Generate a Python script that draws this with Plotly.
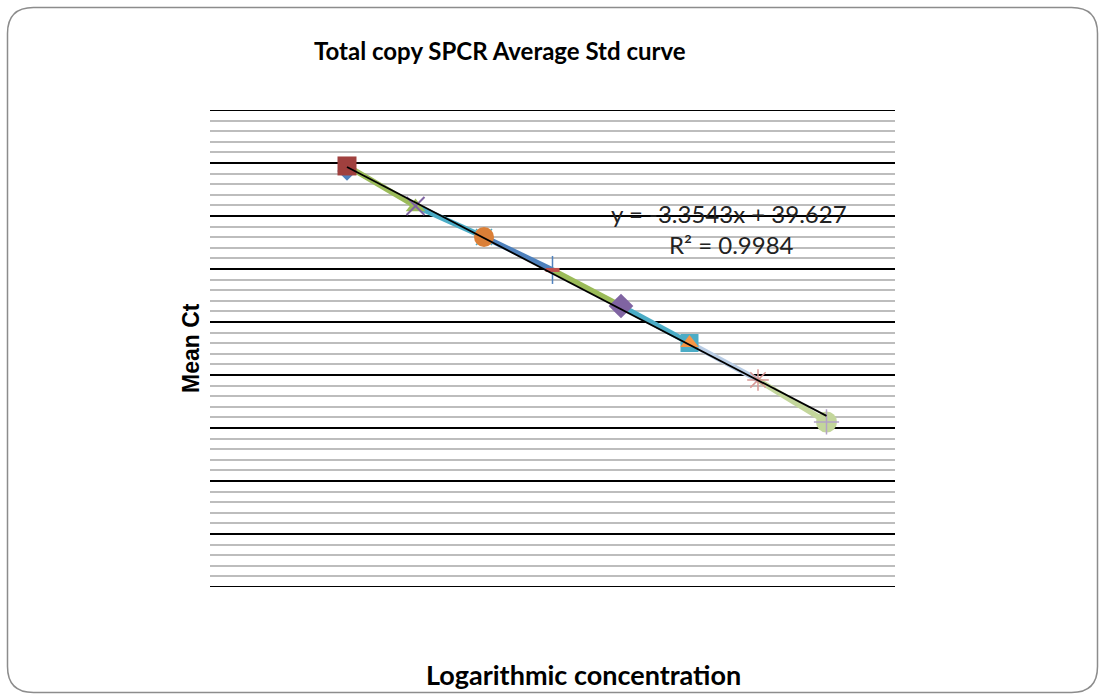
import plotly.graph_objects as go

# ---- data ----
log_conc = [0, 1, 2, 3, 4, 5, 6, 7]
mean_ct_a = [39.25, 35.85, 33.02, 29.91, 26.51, 23.02, 19.53, 15.57]   # first series marker
mean_ct_b = [39.72, 35.94, 33.02, 29.91, 26.51, 23.02, 19.53, 15.57]   # second series marker
fit_slope = -3.3543
fit_intercept = 39.627
r_squared = 0.9984
y_min, y_max, y_major, y_minor = 0, 45, 5, 1

# ---- styles ----
marker_a = [
    dict(symbol="diamond", color="#4F81BD", size=15),
    dict(symbol="triangle-up", color="#9BBB59", size=17),
    dict(symbol="x-thin", color="#4BACC6", size=16, line=dict(color="#4BACC6", width=1.5)),
    dict(symbol="line-ns", color="#4F81BD", size=20, line=dict(color="#4F81BD", width=1.5)),
    dict(symbol="diamond", color="#8064A2", size=19),
    dict(symbol="square", color="#4BACC6", size=18),
    dict(symbol="asterisk", color="#D99694", size=18, line=dict(color="#D99694", width=1.5)),
    dict(symbol="circle", color="#C3D69B", size=21),
]
marker_b = [
    dict(symbol="square", color="#A0403E", size=19),
    dict(symbol="x-thin", color="#8064A2", size=18, line=dict(color="#8064A2", width=2)),
    dict(symbol="circle", color="#DB7F37", size=20),
    dict(symbol="line-ew", color="#C0504D", size=10, line=dict(color="#C0504D", width=4)),
    None,
    dict(symbol="triangle-up", color="#F79646", size=16),
    None,
    dict(symbol="cross-thin", color="#B3A2C7", size=18, line=dict(color="#B3A2C7", width=1.5)),
]
segment_colors = ["#9BBB59", "#4BACC6", "#4F81BD", "#9BBB59", "#4BACC6", "#B9CDE5", "#C3D69B"]

FONT = "Lato"
W, H = 1105, 700
L, R, T, B = 210, 210, 110, 113
PW, PH = W - L - R, H - T - B

def px(x):
    return (x - L) / PW

def py(y):
    return (H - B - y) / PH

fig = go.Figure()

# connecting segments
for i, c in enumerate(segment_colors):
    fig.add_trace(go.Scatter(
        x=log_conc[i:i + 2], y=mean_ct_b[i:i + 2], mode="lines",
        line=dict(color=c, width=5.5), showlegend=False, hoverinfo="skip"))

# markers
for i in range(len(log_conc)):
    fig.add_trace(go.Scatter(x=[log_conc[i]], y=[mean_ct_a[i]], mode="markers",
                             marker=marker_a[i], showlegend=False))
    if marker_b[i] is not None:
        fig.add_trace(go.Scatter(x=[log_conc[i]], y=[mean_ct_b[i]], mode="markers",
                                 marker=marker_b[i], showlegend=False))

# trendline
tx = [log_conc[0], log_conc[-1]]
ty = [fit_slope * v + fit_intercept for v in tx]
fig.add_trace(go.Scatter(x=tx, y=ty, mode="lines", line=dict(color="black", width=1.8),
                         showlegend=False, hoverinfo="skip"))

# edge major gridlines (plotly skips gridlines on the range ends)
for yv in (y_min, y_max):
    fig.add_shape(type="line", xref="paper", yref="y", x0=0, x1=1, y0=yv, y1=yv,
                  line=dict(color="black", width=2), layer="below")

# rounded border
x0, x1, y0, y1, r = 7.5, 1097.5, 7.5, 692.5, 26
rx, ry = r / PW, r / PH
X0, X1, Y0, Y1 = px(x0), px(x1), py(y1), py(y0)
path = (f"M {X0+rx},{Y1} L {X1-rx},{Y1} Q {X1},{Y1} {X1},{Y1-ry} "
        f"L {X1},{Y0+ry} Q {X1},{Y0} {X1-rx},{Y0} L {X0+rx},{Y0} "
        f"Q {X0},{Y0} {X0},{Y0+ry} L {X0},{Y1-ry} Q {X0},{Y1} {X0+rx},{Y1} Z")
fig.add_shape(type="path", path=path, xref="paper", yref="paper",
              line=dict(color="#8C8C8C", width=1.5), layer="below")

eq_text = f"y = {fit_slope}x + {fit_intercept}"
r2_text = f"R² = {r_squared}"
annotations = [
    dict(text="<b>Total copy SPCR Average Std curve</b>", x=px(500), y=py(51),
         font=dict(size=24, family=FONT, color="black")),
    dict(text="<b>Logarithmic concentration</b>", x=px(583), y=py(674),
         font=dict(size=27, family=FONT, color="black")),
    dict(text="<b>Mean Ct</b>", x=px(191), y=py(348), textangle=-90,
         font=dict(size=23, family="Liberation Sans", color="black")),
    dict(text=eq_text, x=px(729), y=py(213), font=dict(size=24, family=FONT, color="#222")),
    dict(text=r2_text, x=px(731), y=py(244), font=dict(size=24, family=FONT, color="#222")),
]
for a in annotations:
    a.update(xref="paper", yref="paper", showarrow=False, xanchor="center", yanchor="middle")

fig.update_layout(
    width=W, height=H,
    margin=dict(l=L, r=R, t=T, b=B, pad=0),
    paper_bgcolor="white", plot_bgcolor="white",
    annotations=annotations,
    xaxis=dict(range=[-2, 8], showgrid=False, zeroline=False, showticklabels=False,
               showline=False, ticks=""),
    yaxis=dict(range=[y_min, y_max], dtick=y_major, showgrid=True, gridcolor="black", gridwidth=2,
               zeroline=False, showticklabels=False, showline=False, ticks="",
               minor=dict(dtick=y_minor, showgrid=True, gridcolor="#BDBDBD", gridwidth=1.5)),
)

fig.write_html("out.html")
